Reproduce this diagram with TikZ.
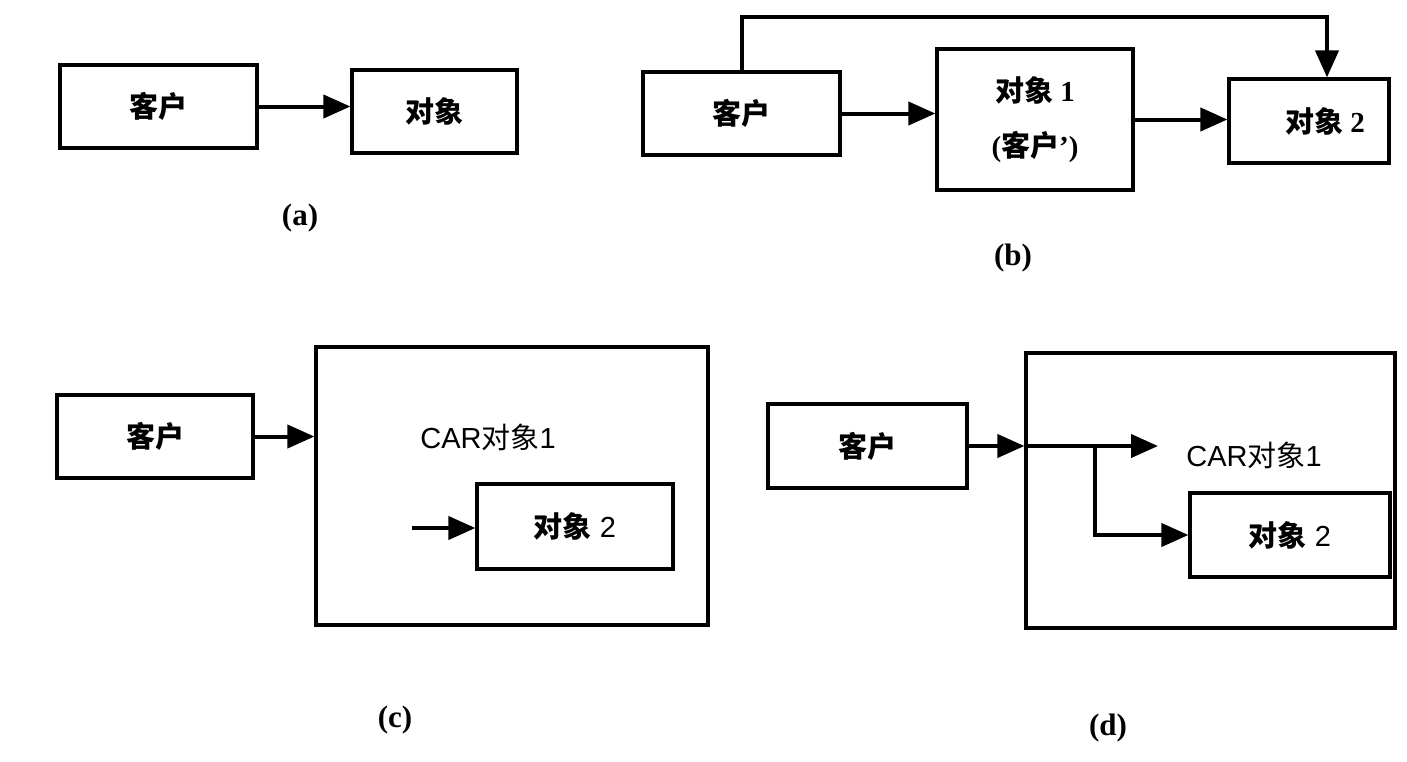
\documentclass[tikz,border=0pt]{standalone}
\usepackage{fontspec}
\setmainfont{Liberation Serif}
\setsansfont{Liberation Sans}
\newfontfamily\cjk{Noto Sans CJK SC}
\usetikzlibrary{arrows.meta}
\tikzset{
  box/.style={draw, line width=3.2pt, inner sep=0pt, font=\bfseries\fontsize{29}{32}\selectfont},
  conn/.style={line width=4pt, -{Triangle[length=27pt,width=23pt]}},
  sublabel/.style={font=\bfseries\fontsize{31}{33}\selectfont},
  cartext/.style={font=\sffamily\fontsize{29}{32}\selectfont}
}
\begin{document}
\begin{tikzpicture}[x=1pt, y=-1pt]
    \useasboundingbox (0,0) rectangle (1407,761);

    % (a)
    \node[box, minimum width=197pt, minimum height=83pt] (ka) at (158.5,106.5) {\cjk\bfseries 客户};
    \node[box, minimum width=165pt, minimum height=83pt] (obja) at (434.5,111.5) {\cjk\bfseries 对象};
    \draw[conn] (ka.east) -- (ka.east -| obja.west);
    \node[sublabel] (la) at (300,218) {(a)};

    % (b)
    \node[box, minimum width=197pt, minimum height=83pt] (kb) at (741.5,113.5) {\cjk\bfseries 客户};
    \node[box, minimum width=196pt, minimum height=141pt, align=center, font=\bfseries\fontsize{29}{55}\selectfont] (ob1) at (1035,119.5)
        {{\cjk\bfseries 对象} 1\\({\cjk\bfseries 客户}')};
    \node[box, minimum width=160pt, minimum height=84pt] (ob2) at (1309,121) {\hspace*{32pt}{\cjk\bfseries 对象} 2};
    \draw[conn] (kb.east) -- (kb.east -| ob1.west);
    \draw[conn] (ob1.east) -- (ob1.east -| ob2.west);
    \coordinate (topb) at (1327,17);
    \draw[conn] (kb.north) |- (topb) -- (topb |- ob2.north);
    \node[sublabel] (lb) at (1013,258) {(b)};

    % (c)
    \node[box, minimum width=196pt, minimum height=83pt] (kc) at (155,436.5) {\cjk\bfseries 客户};
    \node[box, minimum width=392pt, minimum height=278pt] (carc) at (512,486) {};
    \node[cartext] (carlc) at (488,437) {CAR{\cjk 对象}1};
    \node[box, minimum width=196pt, minimum height=85pt, font=\sffamily\fontsize{29}{32}\selectfont] (ob2c) at (575,526.5) {{\cjk\bfseries 对象} 2};
    \draw[conn] (kc.east) -- (kc.east -| carc.west);
    \coordinate (inc) at (412,528);
    \draw[conn] (inc) -- (inc -| ob2c.west);
    \node[sublabel] (lc) at (395,720) {(c)};

    % (d)
    \node[box, minimum width=199pt, minimum height=84pt] (kd) at (867.5,446) {\cjk\bfseries 客户};
    \node[box, minimum width=369pt, minimum height=275pt] (card) at (1210.5,490.5) {};
    \node[cartext] (carld) at (1254,455) {CAR{\cjk 对象}1};
    \node[box, minimum width=200pt, minimum height=84pt, font=\sffamily\fontsize{29}{32}\selectfont] (ob2d) at (1290,535) {{\cjk\bfseries 对象} 2};
    \coordinate (dj) at (kd.east -| card.west);
    \coordinate (dtip) at (1158,446);
    \coordinate (dbr) at (1095,446);
    \draw[conn] (kd.east) -- (dj);
    \draw[conn] (dj) -- (dtip);
    \draw[conn] (dbr) |- (ob2d.west);
    \node[sublabel] (ld) at (1108,728) {(d)};
\end{tikzpicture}
\end{document}
